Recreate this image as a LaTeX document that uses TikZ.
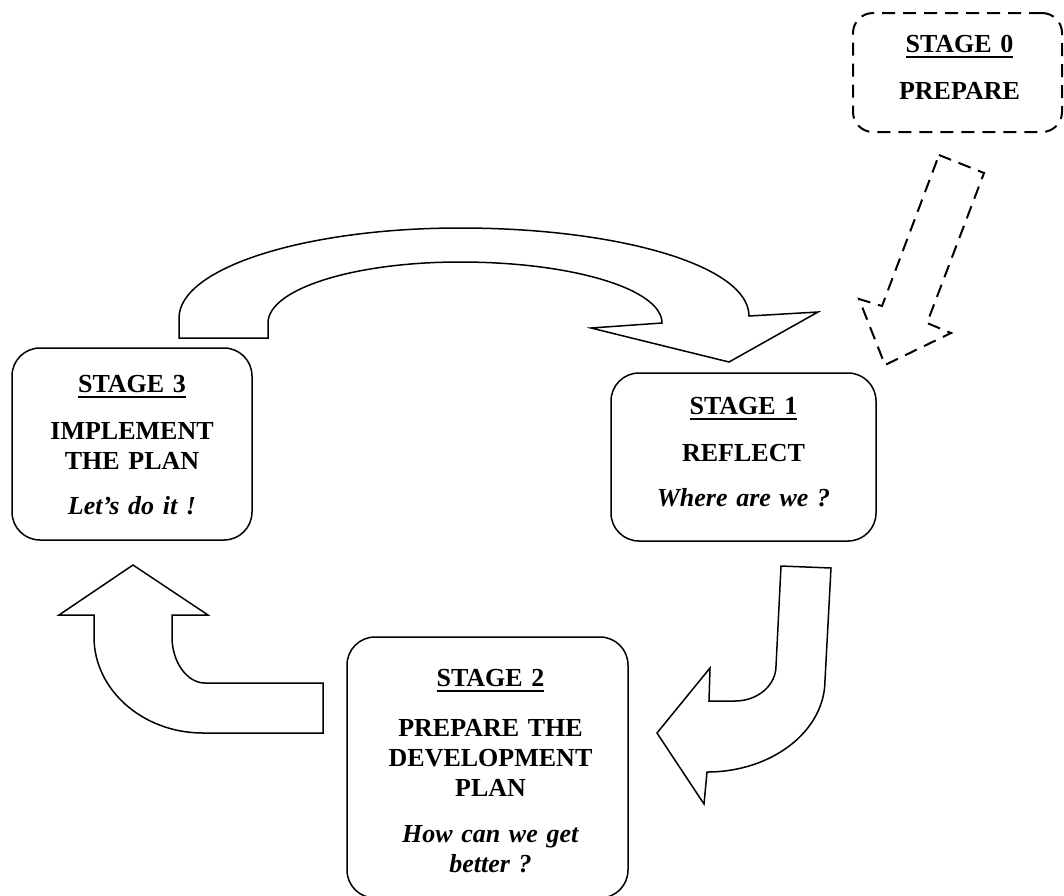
\documentclass[tikz,border=0pt]{standalone}
\usepackage{fontspec}
\setmainfont{Liberation Serif}
\usetikzlibrary{positioning}
\newcommand\stagehead[1]{\setbox0\hbox{#1}\rlap{\rule[-6pt]{\wd0}{1.8pt}}\box0}

\begin{document}
\begin{tikzpicture}[
    x=1pt, y=-1pt,
    stagebox/.style={draw=black, line width=1.5pt, rounded corners=28pt, inner sep=0pt},
    prepbox/.style={stagebox, line width=2pt, rounded corners=20pt, dash pattern=on 13pt off 8pt},
    stagetext/.style={align=center, text width=280pt, inner sep=0pt, anchor=base,
                      font={\fontsize{26}{30}\selectfont\bfseries}},
    bigarrow/.style={draw=black, fill=white, line width=1.5pt, line join=miter},
    dasharrow/.style={bigarrow, line width=2pt, dash pattern=on 13pt off 8pt},]

    \clip (0,0) rectangle (1064,895);
    \fill[white] (0,0) rectangle (1064,895);

    % the four stages
    \node[prepbox, minimum width=209pt, minimum height=119pt] (s0) at (957.5,72.5) {};
    \node[stagebox, minimum width=265pt, minimum height=168pt] (s1) at (743.5,457) {};
    \node[stagebox, minimum width=281pt, minimum height=261pt] (s2) at (487.5,767.5) {};
    \node[stagebox, minimum width=240pt, minimum height=192pt] (s3) at (132,444) {};

    \node[stagetext] (s0t) at ([yshift=-40pt,xshift=2pt]s0.north) {\stagehead{STAGE 0}\\[17pt]PREPARE};
    \node[stagetext] (s1t) at ([yshift=-42pt]s1.north) {\stagehead{STAGE 1}\\[17pt]REFLECT\\[15pt]\textit{Where are we ?}};
    \node[stagetext] (s2t) at ([yshift=-50pt,xshift=3pt]s2.north) {\stagehead{STAGE 2}\\[20pt]PREPARE THE\\DEVELOPMENT\\PLAN\\[16pt]\textit{How can we get}\\\textit{better ?}};
    \node[stagetext] (s3t) at ([yshift=-45pt]s3.north) {\stagehead{STAGE 3}\\[17pt]IMPLEMENT\\THE PLAN\\[15pt]\textit{Let’s do it !}};

    % stage 3 -> stage 1
    \draw[bigarrow] (179,338) -- (179,318) .. controls (179,268) and (305,228) .. (460,228)
        .. controls (620,228) and (749,266) .. (749,316) -- (818,312) -- (729,362) -- (591,328) -- (662,323)
        .. controls (662,289) and (572,262) .. (460,262) .. controls (354,262) and (268,289) .. (268,323)
        -- (268,338) -- cycle;

    % stage 1 -> stage 2
    \draw[bigarrow] (781,566) -- (831,568) -- (825,680) .. controls (825,731) and (772,772) .. (707,772)
        -- (704,804) -- (657,733) -- (710,668) -- (709,701) -- (735,701)
        .. controls (758,701) and (776,685) .. (776,666) -- cycle;

    % stage 2 -> stage 3
    \draw[bigarrow] (323,683) -- (323,733) -- (203,733) .. controls (143,733) and (94,690) .. (94,637)
        -- (94,615) -- (59,615) -- (133,565) -- (208,615) -- (172,615) -- (172,637)
        .. controls (172,662) and (187,683) .. (205,683) -- cycle;

    % stage 0 -> stage 1
    \draw[dasharrow] (939,155) -- (984,173) -- (927,323) -- (951,333) -- (885,365) -- (859,299)
        -- (882,306) -- cycle;

\end{tikzpicture}
\end{document}
